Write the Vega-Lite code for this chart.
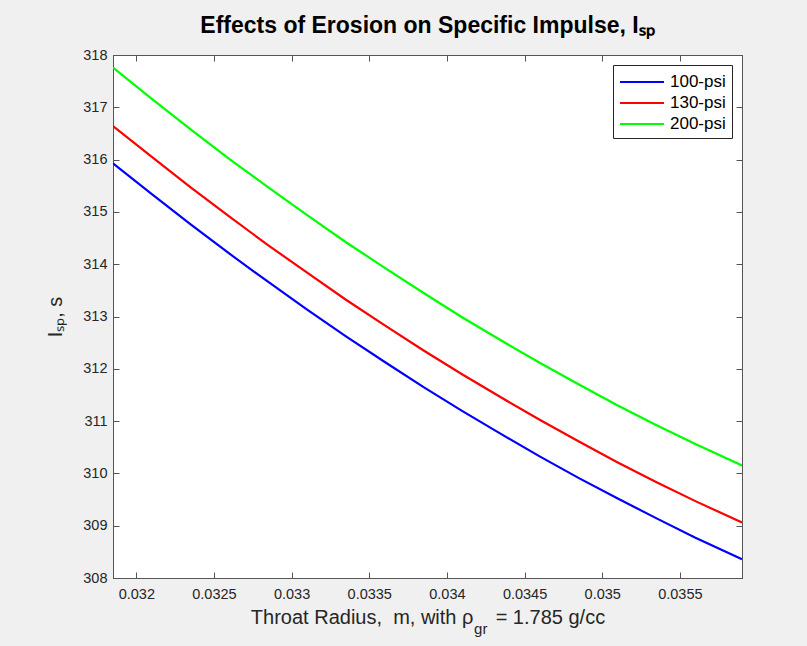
{
  "$schema": "https://vega.github.io/schema/vega-lite/v6.json",
  "width": 629,
  "height": 523,
  "autosize": {"type": "none"},
  "padding": {"left": 113, "top": 55, "right": 65, "bottom": 68},
  "background": "#f0f0f0",
  "config": {
    "font": "Liberation Sans",
    "view": {"fill": "white", "stroke": "#555555", "strokeWidth": 1},
    "axis": {"labelFont": "Liberation Sans", "titleFont": "Liberation Sans", "labelColor": "#262626", "titleColor": "#262626", "domainColor": "#555555", "tickColor": "#555555", "grid": false, "labelFontSize": 14.5, "titleFontSize": 20, "titleFontWeight": "normal"}
  },
  "title": {"text": "Effects of Erosion on Specific Impulse, Iₛₚ", "fontSize": 23, "fontWeight": "bold", "color": "black", "anchor": "middle", "offset": 9, "font": "Liberation Sans"},
  "datasets": {
    "curves": [
      {"r": 0.03185, "isp": 315.93, "p": "100-psi"},
      {"r": 0.0321, "isp": 315.34, "p": "100-psi"},
      {"r": 0.03235, "isp": 314.76, "p": "100-psi"},
      {"r": 0.0326, "isp": 314.20, "p": "100-psi"},
      {"r": 0.03285, "isp": 313.66, "p": "100-psi"},
      {"r": 0.0331, "isp": 313.13, "p": "100-psi"},
      {"r": 0.03335, "isp": 312.62, "p": "100-psi"},
      {"r": 0.0336, "isp": 312.13, "p": "100-psi"},
      {"r": 0.03385, "isp": 311.65, "p": "100-psi"},
      {"r": 0.0341, "isp": 311.19, "p": "100-psi"},
      {"r": 0.03435, "isp": 310.75, "p": "100-psi"},
      {"r": 0.0346, "isp": 310.32, "p": "100-psi"},
      {"r": 0.03485, "isp": 309.91, "p": "100-psi"},
      {"r": 0.0351, "isp": 309.52, "p": "100-psi"},
      {"r": 0.03535, "isp": 309.14, "p": "100-psi"},
      {"r": 0.0356, "isp": 308.77, "p": "100-psi"},
      {"r": 0.0359, "isp": 308.36, "p": "100-psi"},
      {"r": 0.03185, "isp": 316.64, "p": "130-psi"},
      {"r": 0.0321, "isp": 316.05, "p": "130-psi"},
      {"r": 0.03235, "isp": 315.47, "p": "130-psi"},
      {"r": 0.0326, "isp": 314.91, "p": "130-psi"},
      {"r": 0.03285, "isp": 314.36, "p": "130-psi"},
      {"r": 0.0331, "isp": 313.84, "p": "130-psi"},
      {"r": 0.03335, "isp": 313.32, "p": "130-psi"},
      {"r": 0.0336, "isp": 312.83, "p": "130-psi"},
      {"r": 0.03385, "isp": 312.35, "p": "130-psi"},
      {"r": 0.0341, "isp": 311.89, "p": "130-psi"},
      {"r": 0.03435, "isp": 311.45, "p": "130-psi"},
      {"r": 0.0346, "isp": 311.02, "p": "130-psi"},
      {"r": 0.03485, "isp": 310.61, "p": "130-psi"},
      {"r": 0.0351, "isp": 310.21, "p": "130-psi"},
      {"r": 0.03535, "isp": 309.83, "p": "130-psi"},
      {"r": 0.0356, "isp": 309.47, "p": "130-psi"},
      {"r": 0.0359, "isp": 309.06, "p": "130-psi"},
      {"r": 0.03185, "isp": 317.76, "p": "200-psi"},
      {"r": 0.0321, "isp": 317.16, "p": "200-psi"},
      {"r": 0.03235, "isp": 316.58, "p": "200-psi"},
      {"r": 0.0326, "isp": 316.01, "p": "200-psi"},
      {"r": 0.03285, "isp": 315.47, "p": "200-psi"},
      {"r": 0.0331, "isp": 314.94, "p": "200-psi"},
      {"r": 0.03335, "isp": 314.42, "p": "200-psi"},
      {"r": 0.0336, "isp": 313.93, "p": "200-psi"},
      {"r": 0.03385, "isp": 313.45, "p": "200-psi"},
      {"r": 0.0341, "isp": 312.98, "p": "200-psi"},
      {"r": 0.03435, "isp": 312.54, "p": "200-psi"},
      {"r": 0.0346, "isp": 312.11, "p": "200-psi"},
      {"r": 0.03485, "isp": 311.70, "p": "200-psi"},
      {"r": 0.0351, "isp": 311.30, "p": "200-psi"},
      {"r": 0.03535, "isp": 310.92, "p": "200-psi"},
      {"r": 0.0356, "isp": 310.56, "p": "200-psi"},
      {"r": 0.0359, "isp": 310.15, "p": "200-psi"}
    ],
    "sub": [{"t": "gr"}]
  },
  "layer": [
    {
      "data": {"name": "curves"},
      "mark": {"type": "line", "strokeWidth": 2.2, "clip": true},
      "encoding": {
        "x": {"field": "r", "type": "quantitative", "scale": {"domain": [0.03185, 0.0359], "nice": false, "zero": false},
              "axis": {"orient": "bottom", "title": "Throat Radius,\u00a0 m, with ρ\u00a0\u00a0\u00a0\u00a0= 1.785 g/cc", "values": [0.032, 0.0325, 0.033, 0.0335, 0.034, 0.0345, 0.035, 0.0355], "format": ".4~f", "tickSize": -6, "labelPadding": 15, "titlePadding": 7, "domain": true}},
        "y": {"field": "isp", "type": "quantitative", "scale": {"domain": [308, 318], "nice": false, "zero": false},
              "axis": {"orient": "left", "title": "Iₛₚ, s", "values": [308, 309, 310, 311, 312, 313, 314, 315, 316, 317, 318], "tickSize": -6, "labelPadding": 12, "titlePadding": 17}},
        "color": {"field": "p", "type": "nominal", "scale": {"domain": ["100-psi", "130-psi", "200-psi"], "range": ["#0000ff", "#ff0000", "#00ff00"]},
                  "legend": {"title": null, "orient": "top-right", "offset": 10, "fillColor": "white", "strokeColor": "#262626", "padding": 6, "symbolType": "M-2.2,0H2.2", "symbolSize": 400, "symbolOffset": 12, "symbolStrokeWidth": 2, "labelFontSize": 17, "labelColor": "black", "labelOffset": 17, "rowPadding": 2, "labelFont": "Liberation Sans"}}
      }
    },
    {
      "data": {"name": "curves"},
      "mark": {"type": "point", "opacity": 0},
      "encoding": {
        "x": {"field": "r", "type": "quantitative", "scale": {"domain": [0.03185, 0.0359], "nice": false, "zero": false},
              "axis": {"orient": "top", "title": null, "labels": false, "values": [0.032, 0.0325, 0.033, 0.0335, 0.034, 0.0345, 0.035, 0.0355], "tickSize": -6}},
        "y": {"field": "isp", "type": "quantitative", "scale": {"domain": [308, 318], "nice": false, "zero": false},
              "axis": {"orient": "right", "title": null, "labels": false, "values": [308, 309, 310, 311, 312, 313, 314, 315, 316, 317, 318], "tickSize": -6}}
      }
    },
    {
      "data": {"name": "sub"},
      "mark": {"type": "text", "align": "left", "baseline": "alphabetic", "fontSize": 15, "color": "#262626", "clip": false, "font": "Liberation Sans"},
      "encoding": {
        "x": {"datum": 0.034175, "type": "quantitative", "scale": {"domain": [0.03185, 0.0359], "nice": false, "zero": false}, "axis": null},
        "y": {"datum": 306.92, "type": "quantitative", "scale": {"domain": [308, 318], "nice": false, "zero": false}, "axis": null},
        "text": {"field": "t"}
      }
    }
  ],
  "resolve": {"axis": {"x": "independent", "y": "independent"}}
}
